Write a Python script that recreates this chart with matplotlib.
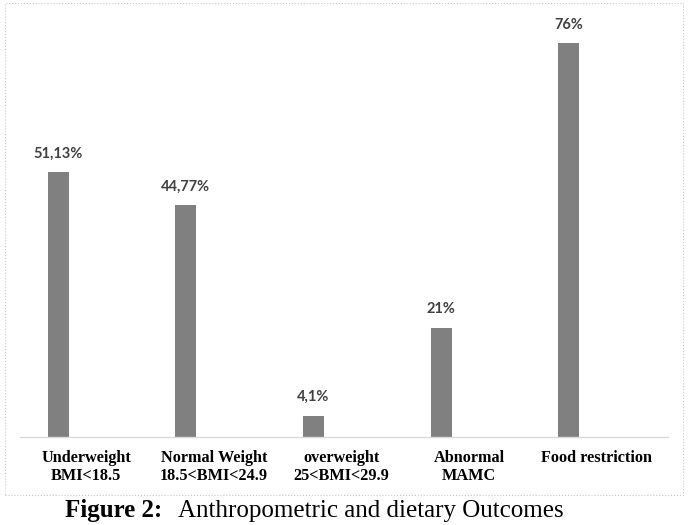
import matplotlib.pyplot as plt
from matplotlib.patches import Rectangle

categories = ['Underweight\nBMI<18.5', 'Normal Weight\n18.5<BMI<24.9', 'overweight\n25<BMI<29.9',
              'Abnormal\nMAMC', 'Food restriction']
values = [51.13, 44.77, 4.1, 21, 76]
value_labels = ['51,13%', '44,77%', '4,1%', '21%', '76%']

fig = plt.figure(figsize=(6.89, 5.25), dpi=100)
ax = fig.add_axes([0.029, 0.1676, 0.941, 0.789])

pos = list(range(len(categories)))
bar_pos = [p - 0.22 for p in pos]
bars = ax.bar(bar_pos, values, width=0.165, color='#808080')

for b, lab in zip(bars, value_labels):
    ax.annotate(lab, (b.get_x() + b.get_width() / 2, b.get_height()),
                xytext=(0, 8.5), textcoords='offset points', ha='center', va='bottom',
                fontsize=10.5, fontweight='bold', color='#404040', family='Lato')

ax.set_xlim(-0.52, 4.56)
ax.set_ylim(0, 80)
ax.set_xticks(pos)
ax.set_xticklabels(categories, family='Liberation Serif', fontweight='bold', fontsize=11.7,
                   va='top', linespacing=1.2)
ax.tick_params(axis='x', length=0, pad=9)
ax.set_yticks([])
for s in ['top', 'left', 'right']:
    ax.spines[s].set_visible(False)
ax.spines['bottom'].set_color('#d9d9d9')
ax.spines['bottom'].set_linewidth(1)

# outer frame
fig.patches.append(Rectangle((0.007, 0.057), 0.984, 0.937, transform=fig.transFigure,
                             fill=False, edgecolor='#c8c8c8', linewidth=0.8, linestyle=':'))

fig.text(65 / 689, 0.027, 'Figure 2:', family='Liberation Serif', fontweight='bold',
         fontsize=18, ha='left', va='center')
fig.text(178 / 689, 0.027, 'Anthropometric and dietary Outcomes', family='Liberation Serif',
         fontsize=18, ha='left', va='center')

fig.savefig('out.png', dpi=100)
